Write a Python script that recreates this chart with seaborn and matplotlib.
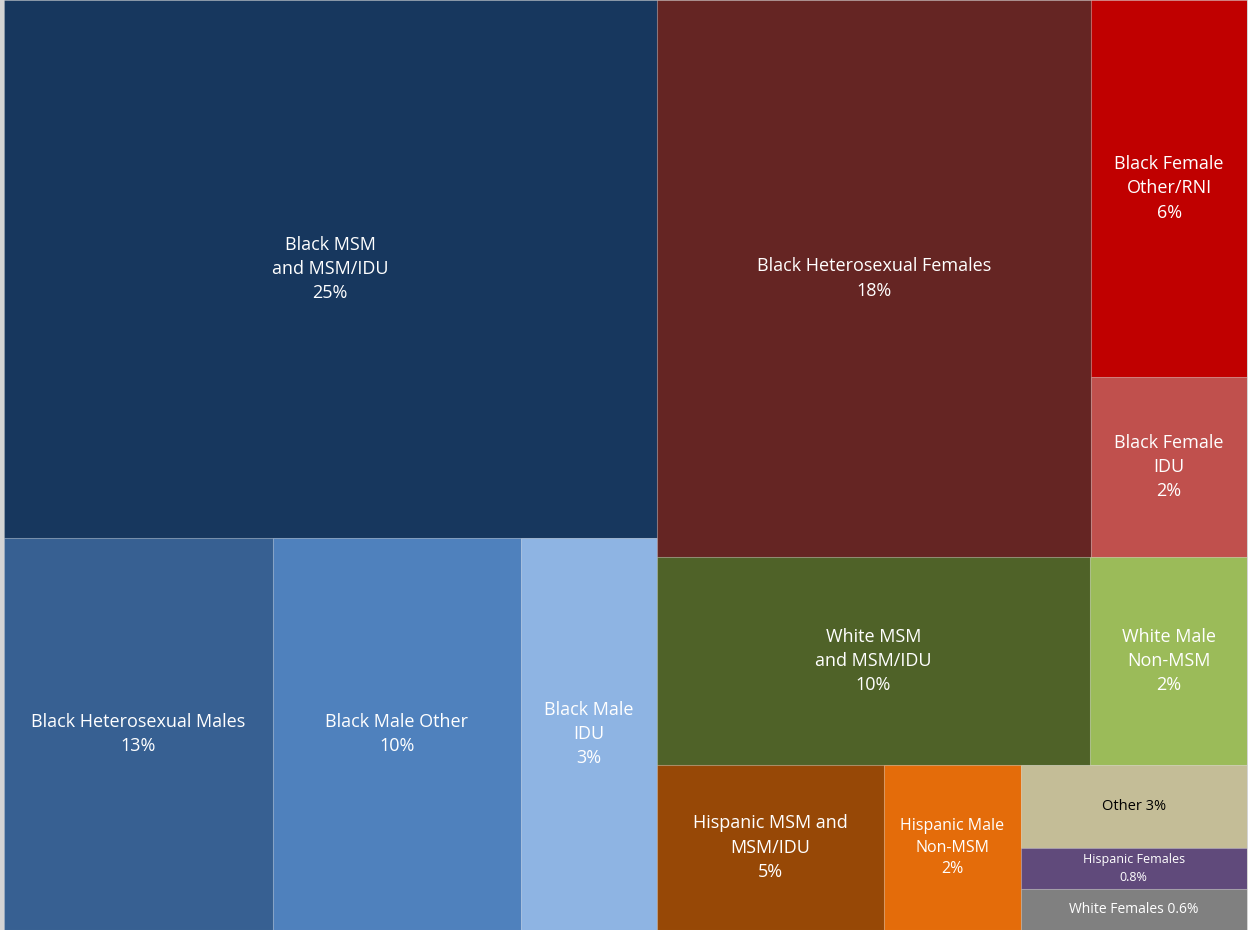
import numpy as np
import matplotlib.pyplot as plt
import seaborn as sns

# tile sizes (share of the treemap area) and the printed labels
groups = ['Black MSM and MSM/IDU', 'Black Heterosexual Males', 'Black Male Other', 'Black Male IDU',
          'Black Heterosexual Females', 'Black Female Other/RNI', 'Black Female IDU',
          'White MSM and MSM/IDU', 'White Male Non-MSM',
          'Hispanic MSM and MSM/IDU', 'Hispanic Male Non-MSM', 'Other', 'Hispanic Females', 'White Females']
area_share = [30.37, 9.11, 8.40, 4.61,
              20.94, 5.08, 2.43,
              7.80, 2.82,
              3.25, 1.94, 1.63, 0.80, 0.80]
pct_labels = ['25%', '13%', '10%', '3%',
              '18%', '6%', '2%',
              '10%', '2%',
              '5%', '2%', '3%', '0.8%', '0.6%']
label_text = ['Black MSM\nand MSM/IDU\n{}', 'Black Heterosexual Males\n{}', 'Black Male Other\n{}', 'Black Male\nIDU\n{}',
              'Black Heterosexual Females\n{}', 'Black Female\nOther/RNI\n{}', 'Black Female\nIDU\n{}',
              'White MSM\nand MSM/IDU\n{}', 'White Male\nNon-MSM\n{}',
              'Hispanic MSM and\nMSM/IDU\n{}', 'Hispanic Male\nNon-MSM\n{}', 'Other {}', 'Hispanic Females\n{}', 'White Females {}']

colors = ['#17375E', '#376092', '#4F81BD', '#8EB4E3',
          '#652523', '#C00000', '#C0504D',
          '#4F6228', '#9BBB59',
          '#974806', '#E46C0A', '#C4BD97', '#604A7B', '#808080']
text_colors = ['white'] * 11 + ['black', 'white', 'white']
font_sizes = [13, 13, 13, 13, 13, 13, 13, 13, 13, 13, 11.5, 10.5, 9, 10]

# nesting of the tiles: lists alternate between side-by-side and stacked
layout = [[0, [1, 2, 3]],
          [[4, [5, 6]], [7, 8], [9, 10, [11, 12, 13]]]]


def node_size(node):
    if isinstance(node, list):
        return sum(node_size(n) for n in node)
    return area_share[node]


def slice_layout(node, x, y, w, h, horizontal, out):
    if not isinstance(node, list):
        out[node] = (x, y, w, h)
        return
    total = node_size(node)
    pos = x if horizontal else y
    for child in node:
        frac = node_size(child) / total
        if horizontal:
            slice_layout(child, pos, y, w * frac, h, not horizontal, out)
            pos += w * frac
        else:
            slice_layout(child, x, pos, w, h * frac, not horizontal, out)
            pos += h * frac


rects = {}
slice_layout(layout, 0.0, 0.0, 1.0, 1.0, True, rects)

sns.set_theme(style='white')
plt.rcParams['font.family'] = ['Open Sans', 'DejaVu Sans']

fig = plt.figure(figsize=(12.48, 9.30), dpi=100, facecolor='#d4d4d4')
ax = fig.add_axes([4 / 1248, 0, 1243 / 1248, 1])

for i in range(len(groups)):
    x, y, w, h = rects[i]
    ax.bar(x, h, width=w, bottom=y, align='edge', color=colors[i],
           edgecolor=(1, 1, 1, 0.15), linewidth=0.8)
    ax.text(x + w / 2, y + h / 2, label_text[i].format(pct_labels[i]),
            ha='center', va='center', color=text_colors[i],
            fontsize=font_sizes[i], linespacing=1.45)

ax.set_xlim(0, 1)
ax.set_ylim(1, 0)
ax.set_axis_off()

plt.savefig('out.png', dpi=100, facecolor=fig.get_facecolor())
